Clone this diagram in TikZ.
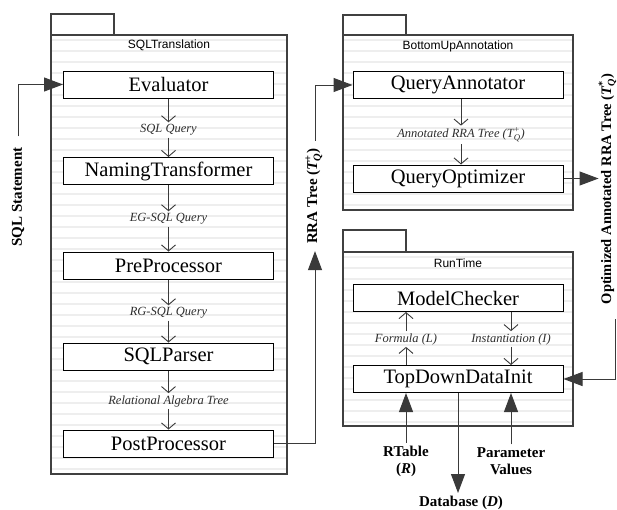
\documentclass[tikz,border=0pt]{standalone}
\usepackage{amsmath}
\usepackage{fontspec}
\setmainfont{Liberation Serif}
\setsansfont{Liberation Sans}
\usetikzlibrary{arrows.meta}

\definecolor{pkgline}{HTML}{404040}
\definecolor{connc}{HTML}{3A3A3A}
\definecolor{stripec}{HTML}{EEEEEE}
\definecolor{lblc}{HTML}{2E2E2E}

\tikzset{
  pkgbox/.style={draw=pkgline, line width=1.3pt},
  tabbox/.style={draw=pkgline, line width=1.1pt, fill=white},
  ptitle/.style={font=\sffamily\fontsize{12}{14}\selectfont, inner sep=0pt},
  compbox/.style={draw=black, line width=1pt, fill=white, minimum width=210pt,
    minimum height=27pt, inner sep=0pt, font=\fontsize{20.5}{24}\selectfont},
  elabel/.style={font=\itshape\fontsize{12.5}{15}\selectfont, text=lblc, inner sep=2pt},
  openarr/.style={draw=connc, line width=0.9pt, -{Straight Barb[length=6pt,width=14pt]}},
  solidarr/.style={draw=connc, line width=1pt, -{Triangle[length=19pt,width=14pt]}},
  blabel/.style={font=\bfseries\fontsize{15}{17}\selectfont, inner sep=3pt, align=center},
}

\begin{document}
\begin{tikzpicture}[x=1pt,y=-1pt]
\useasboundingbox (0,0) rectangle (617,509);
\fill[white] (0,0) rectangle (617,509);

% packages with striped background
\foreach \xa/\ya/\xb/\yb/\ty in {51/35/287/474/14, 343/35/573/210/15, 343/252/573/426/230}{
  \begin{scope}
    \clip (\xa,\ya) rectangle (\xb,\yb);
    \foreach \yy in {0,11,...,440}
      \draw[stripec, line width=2pt] (\xa,\ya+\yy+5) -- (\xb,\ya+\yy+5);
  \end{scope}
  \draw[pkgbox] (\xa,\ya) rectangle (\xb,\yb);
  \draw[tabbox] (\xa,\ty) rectangle (\xa+63,\ya);
}

\node[ptitle] (t1) at (169,45) {SQLTranslation};
\node[ptitle] (t2) at (458,46) {BottomUpAnnotation};
\node[ptitle] (t3) at (458,263) {RunTime};

% SQLTranslation
\node[compbox] (eval)   at (168.5,84.5)  {Evaluator};
\node[compbox] (naming) at (168.5,171)   {NamingTransformer};
\node[compbox] (pre)    at (168.5,265.5) {PreProcessor};
\node[compbox] (parser) at (168.5,356.5) {SQLParser};
\node[compbox] (post)   at (168.5,443.5) {PostProcessor};

\node[elabel] (l1) at (168.5,130) {SQL Query};
\node[elabel] (l2) at (168.5,219) {EG-SQL Query};
\node[elabel] (l3) at (168.5,313) {RG-SQL Query};
\node[elabel] (l4) at (168.5,401) {Relational Algebra Tree};

\draw[openarr] (eval) -- (l1);
\draw[openarr] (l1) -- (naming);
\draw[openarr] (naming) -- (l2);
\draw[openarr] (l2) -- (pre);
\draw[openarr] (pre) -- (l3);
\draw[openarr] (l3) -- (parser);
\draw[openarr] (parser) -- (l4);
\draw[openarr] (l4) -- (post);

% BottomUpAnnotation
\node[compbox] (qa) at (458,85)    {QueryAnnotator};
\node[compbox] (qo) at (458,178.5) {QueryOptimizer};
\node[elabel] (al) at (461,135) {Annotated RRA Tree ($\textit{T}_{\textit{Q}}^{\text{+}}$)};
\draw[openarr] (qa.south -| al) -- (al);
\draw[openarr] (al) -- (al |- qo.north);

% RunTime
\node[compbox] (mc)   at (458,298) {ModelChecker};
\node[compbox] (tddi) at (458,379) {TopDownDataInit};
\node[elabel] (fl) at (406,339) {Formula (\textit{L})};
\node[elabel] (il) at (511,339) {Instantiation (\textit{I})};
\draw[openarr] (tddi.north -| fl) -- (fl);
\draw[openarr] (fl) -- (fl |- mc.south);
\draw[openarr] (mc.south -| il) -- (il);
\draw[openarr] (il) -- (il |- tddi.north);

% external labels
\node[blabel, rotate=90] (sqls) at (18,197) {SQL Statement};
\node[blabel, rotate=90] (rra) at (314,196) {RRA Tree ($\textit{T}_{\textit{Q}}^{\text{+}}$)};
\node[blabel, rotate=90, font=\bfseries\fontsize{14.5}{17}\selectfont] (opt) at (607.5,189) {Optimized Annotated RRA Tree ($\textit{T}_{\textit{Q}}^{\text{*}}$)};
\node[blabel] (rt) at (406,461) {RTable\\(\textit{R})};
\node[blabel] (pv) at (511,461) {Parameter\\Values};
\node[blabel] (db) at (461,503) {Database (\textit{D})};

\draw[solidarr] ([yshift=8pt]sqls.east) |- (eval.west);
\draw[solidarr] (post.east) -| ([xshift=1pt,yshift=-4pt]rra.west);
\draw[solidarr] ([xshift=1pt,yshift=4pt]rra.east) |- (qa.west);
\draw[solidarr] (qo.east) -- ([xshift=3pt]qo.east -| opt.north);
\draw[solidarr] ([xshift=8pt,yshift=-12pt]opt.west) |- (tddi.east);
\draw[solidarr] (rt) -- (rt |- tddi.south);
\draw[solidarr] (pv) -- (pv |- tddi.south);
\draw[solidarr] (tddi.south) -- (tddi.south |- db.north);
\end{tikzpicture}
\end{document}
